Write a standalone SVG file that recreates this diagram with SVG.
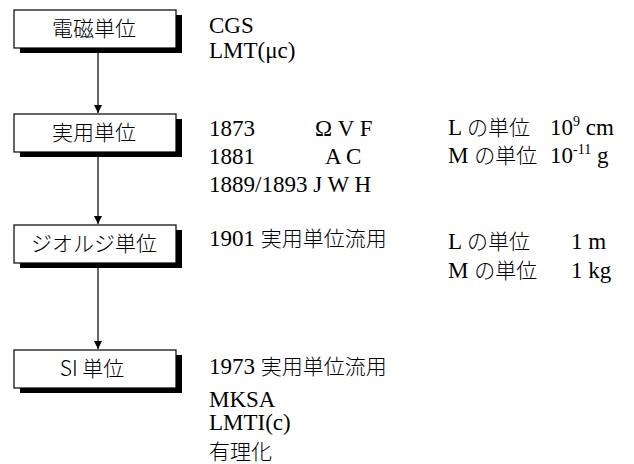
<svg xmlns="http://www.w3.org/2000/svg" width="634" height="464" viewBox="0 0 634 464">
<defs>
<style>
.t{font-family:"Liberation Serif","Noto Sans CJK JP",serif;font-size:23px;fill:#000}
.j{font-family:"Noto Sans CJK JP",sans-serif;font-size:21px;font-weight:300}
.lb{font-family:"Noto Sans CJK JP","Liberation Sans",sans-serif;font-size:21px;font-weight:300;fill:#000;text-anchor:middle}
.box{fill:#fff;stroke:#000;stroke-width:1.2}
.sh{fill:#000}
.ln{stroke:#000;stroke-width:1.2;fill:none}
</style>
<marker id="ah" markerWidth="8" markerHeight="10" refX="8" refY="5" orient="auto" markerUnits="userSpaceOnUse">
<path d="M0,1 L8,5 L0,9 Z" fill="#000"/>
</marker>
</defs>
<rect width="634" height="464" fill="#fff"/>
<g id="connectors">
<line class="ln" x1="98" y1="53" x2="98" y2="113" marker-end="url(#ah)"/>
<line class="ln" x1="98" y1="157" x2="98" y2="224" marker-end="url(#ah)"/>
<line class="ln" x1="98" y1="268" x2="98" y2="349" marker-end="url(#ah)"/>
</g>
<g id="node-denji">
<rect class="sh" x="20" y="15" width="162" height="38"/>
<rect class="box" x="14" y="10" width="162" height="38"/>
<text class="lb" x="94" y="36">電磁単位</text>
</g>
<g id="node-jitsuyo">
<rect class="sh" x="20" y="119" width="162" height="38"/>
<rect class="box" x="14" y="114" width="162" height="38"/>
<text class="lb" x="94" y="140">実用単位</text>
</g>
<g id="node-giorgi">
<rect class="sh" x="20" y="230" width="162" height="38"/>
<rect class="box" x="14" y="225" width="162" height="38"/>
<text class="lb" x="94" y="251">ジオルジ単位</text>
</g>
<g id="node-si">
<rect class="sh" x="20" y="355" width="162" height="38"/>
<rect class="box" x="14" y="350" width="162" height="38"/>
<text class="lb" x="92" y="376">SI 単位</text>
</g>
<g id="texts">
<text class="t" x="209" y="33">CGS</text>
<text class="t" x="209" y="58">LMT(μc)</text>
<text class="t" x="209" y="136">1873</text>
<text class="t" x="315" y="136">Ω V F</text>
<text class="t" x="209" y="164">1881</text>
<text class="t" x="325" y="164">A C</text>
<text class="t" x="209" y="192">1889/1893 J W H</text>
<text class="t" x="448" y="135">L <tspan class="j">の単位</tspan></text>
<text class="t" x="550" y="135">10<tspan font-size="14" dy="-9">9</tspan><tspan dy="9"> cm</tspan></text>
<text class="t" x="448" y="163">M <tspan class="j">の単位</tspan></text>
<text class="t" x="550" y="163">10<tspan font-size="14" dy="-9">-11</tspan><tspan dy="9"> g</tspan></text>
<text class="t" x="209" y="246">1901 <tspan class="j">実用単位流用</tspan></text>
<text class="t" x="448" y="249">L <tspan class="j">の単位</tspan></text>
<text class="t" x="571" y="249">1 m</text>
<text class="t" x="448" y="278">M <tspan class="j">の単位</tspan></text>
<text class="t" x="571" y="278">1 kg</text>
<text class="t" x="209" y="374">1973 <tspan class="j">実用単位流用</tspan></text>
<text class="t" x="209" y="407">MKSA</text>
<text class="t" x="209" y="430">LMTI(c)</text>
<text class="t" x="209" y="459"><tspan class="j">有理化</tspan></text>
</g>
</svg>
